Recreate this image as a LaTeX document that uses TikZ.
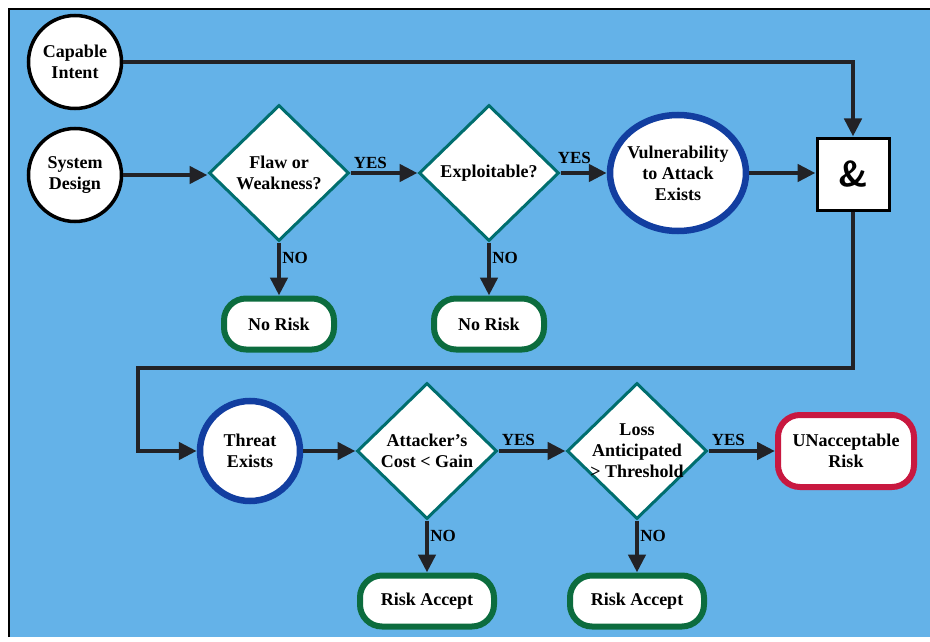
\documentclass[tikz,border=0pt]{standalone}
\usepackage{fontspec}
\setmainfont{Liberation Serif}
\usetikzlibrary{shapes.geometric,arrows.meta}
\definecolor{bgblue}{RGB}{100,178,232}
\definecolor{tealc}{RGB}{0,110,110}
\definecolor{greenc}{RGB}{12,108,62}
\definecolor{bluec}{RGB}{18,62,160}
\definecolor{redc}{RGB}{200,24,64}
\definecolor{arrc}{RGB}{34,34,38}
\begin{document}
\begin{tikzpicture}[x=1pt,y=-1pt,
  every node/.style={font=\fontsize{18}{21}\selectfont\bfseries, align=center, text=black},
  startc/.style={circle, draw=black, line width=3.5pt, fill=white, minimum size=93pt, inner sep=-20pt},
  decis/.style={diamond, draw=tealc, line width=3pt, fill=white, minimum width=140pt, minimum height=136pt, inner sep=-40pt, aspect=1},
  endbox/.style={rounded corners=22pt, draw=greenc, line width=6pt, fill=white, minimum width=110pt, minimum height=51pt, inner sep=0pt},
  conn/.style={draw=arrc, line width=4.5pt, -{Triangle[length=18pt,width=17pt]}},
  lbl/.style={font=\fontsize{17}{18}\selectfont\bfseries, inner sep=1pt}
]
\useasboundingbox (0,0) rectangle (930,642);
\fill[bgblue] (9,9) rectangle (935,637);
\draw[black, line width=2.5pt] (9,637) -- (9,9) -- (935,9);

% top row
\node[startc] (ci) at (75,62) {Capable\\Intent};
\node[startc] (sd) at (75,175) {System\\Design};
\node[decis] (fw) at (279,173) {Flaw or\\Weakness?};
\node[decis] (ex) at (489,173) {Exploitable?};
\node[ellipse, draw=bluec, line width=6.5pt, fill=white, minimum width=136pt, minimum height=116pt, inner sep=-20pt] (vu) at (678,173) {Vulnerability\\to Attack\\Exists};
\node[rectangle, draw=black, line width=3pt, fill=white, minimum width=72pt, minimum height=72pt, inner sep=0pt, font=\fontsize{36}{38}\selectfont\bfseries\sffamily] (amp) at (853,174) {\&};
\node[endbox] (nr1) at (279,324) {No Risk};
\node[endbox] (nr2) at (489,324) {No Risk};

% bottom row
\node[circle, draw=bluec, line width=6.5pt, fill=white, minimum size=100pt, inner sep=-10pt] (th) at (250,451) {Threat\\Exists};
\node[decis] (ac) at (427,451) {Attacker's\\Cost < Gain};
\node[decis] (lo) at (637,451) {Loss\\Anticipated\\> Threshold};
\node[rounded corners=22pt, draw=redc, line width=6pt, fill=white, minimum width=136pt, minimum height=72pt, inner sep=0pt] (un) at (846,451) {UNacceptable\\Risk};
\node[endbox, minimum width=134pt] (ra1) at (427,601) {Risk Accept};
\node[endbox, minimum width=134pt] (ra2) at (637,601) {Risk Accept};

\coordinate (c1) at (853,62);
\coordinate (c2) at (853,368);
\coordinate (c3) at (138,368);
\coordinate (c4) at (138,451);

% connectors
\draw[conn] (ci.east) -- (c1) -- (amp.north);
\draw[conn] (sd.east) -- (sd.east -| fw.west);
\draw[conn] (fw.east) -- node[lbl, above right, pos=0, yshift=1pt] {YES} (ex.west);
\draw[conn] (ex.east) -- node[lbl, above right, pos=0, yshift=6pt, xshift=-6pt] {YES} (vu.west);
\draw[conn] (vu.east) -- (vu.east -| amp.west);
\draw[conn] (fw.south) -- node[lbl, right, pos=0.3] {NO} (nr1.north);
\draw[conn] (ex.south) -- node[lbl, right, pos=0.3] {NO} (nr2.north);
\draw[conn] (amp.south) -- (c2) -- (c3) -- (c4) -- (th.west);
\draw[conn] (th.east) -- (ac.west);
\draw[conn] (ac.east) -- node[lbl, above right, pos=0, yshift=2pt] {YES} (lo.west);
\draw[conn] (lo.east) -- node[lbl, above right, pos=0, yshift=2pt] {YES} (un.west);
\draw[conn] (ac.south) -- node[lbl, right, pos=0.3] {NO} (ra1.north);
\draw[conn] (lo.south) -- node[lbl, right, pos=0.3] {NO} (ra2.north);
\end{tikzpicture}
\end{document}
